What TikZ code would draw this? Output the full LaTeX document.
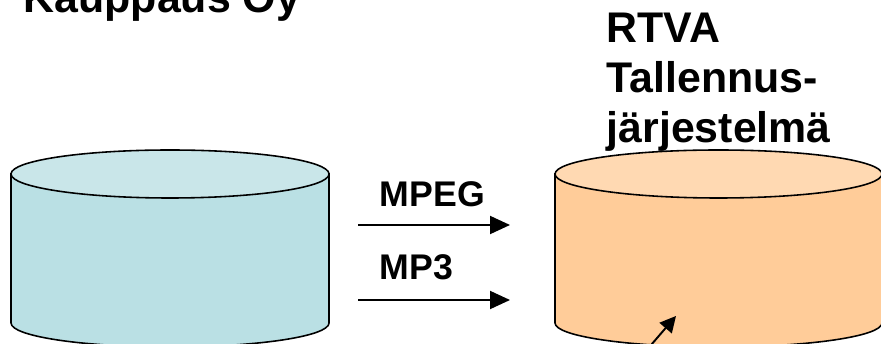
\documentclass[tikz,border=0pt]{standalone}
\usepackage{fontspec}
\setmainfont{Liberation Sans}
\usetikzlibrary{arrows.meta}
\definecolor{tealbody}{RGB}{186,224,228}
\definecolor{tealtop}{RGB}{201,230,233}
\definecolor{peachbody}{RGB}{255,204,153}
\definecolor{peachtop}{RGB}{255,217,178}
\tikzset{
  bigtext/.style={font=\fontsize{24.4pt}{28.5pt}\selectfont\bfseries,inner sep=0pt,anchor=base west},
  smalltext/.style={font=\fontsize{20.3pt}{24pt}\selectfont\bfseries,inner sep=0pt,anchor=base west},
  flow/.style={line width=1.1pt,-{Triangle[length=0.4cm,width=0.36cm]}}
}

\begin{document}
\begin{tikzpicture}[x=0.02cm,y=0.02cm,line width=0.9pt]
  % Frame
  \useasboundingbox (0,0) rectangle (881,344);
  %
  % Parameters
  \def\radY{24}
  \def\ytop{170}
  \def\ybot{21}
  %
  % Left store
  \def\xa{11}\def\xb{329}\def\radX{159}
  \filldraw[fill=tealbody] (\xa,\ytop) -- (\xa,\ybot)
    arc[start angle=180,end angle=360,x radius=\radX,y radius=\radY]
    -- (\xb,\ytop) -- cycle;
  \filldraw[fill=tealtop] (\xa+\radX,\ytop) ellipse [x radius=\radX,y radius=\radY];
  %
  % Right store
  \def\xa{555}\def\xb{882}\def\radX{163.5}
  \filldraw[fill=peachbody] (\xa,\ytop) -- (\xa,\ybot)
    arc[start angle=180,end angle=360,x radius=\radX,y radius=\radY]
    -- (\xb,\ytop) -- cycle;
  \filldraw[fill=peachtop] (\xa+\radX,\ytop) ellipse [x radius=\radX,y radius=\radY];
  %
  % Titles
  \node[bigtext] (kauppaus) at (23,331) {Kauppaus Oy};
  \node[bigtext] (rtva) at (606,301) {RTVA};
  \node[bigtext] (tallennus) at (606,251) {Tallennus-};
  \node[bigtext] (jarj) at (606,201) {järjestelmä};
  %
  % Streams
  \node[smalltext] (mpeg) at (379,137) {MPEG};
  \node[smalltext] (mpthree) at (379,64) {MP3};
  \coordinate (mpegA) at (358,119);
  \coordinate (mpegB) at (510,119);
  \coordinate (mpA) at (358,44);
  \coordinate (mpB) at (510,44);
  \draw[flow] (mpegA) -- (mpegB);
  \draw[flow] (mpA) -- (mpB);
  %
  % Input at the bottom
  \coordinate (inA) at (645,-8);
  \coordinate (inB) at (676,28);
  \draw[flow,-{Triangle[length=0.32cm,width=0.32cm]}] (inA) -- (inB);
\end{tikzpicture}
\end{document}
